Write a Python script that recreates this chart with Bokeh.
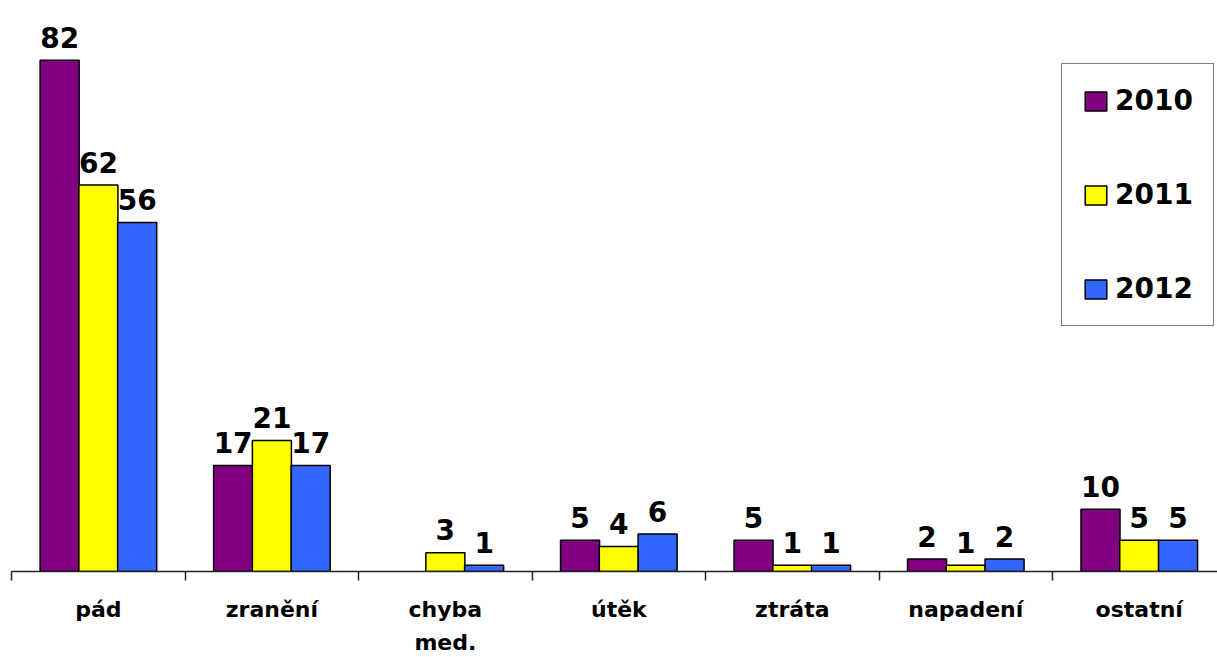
from bokeh.plotting import figure
from bokeh.models import Range1d, FixedTicker, ColumnDataSource, Legend, LegendItem
from bokeh.core.properties import value
from bokeh.embed import file_html
from bokeh.resources import INLINE

categories = ["pád", "zranění", "chyba\nmed.", "útěk", "ztráta", "napadení", "ostatní"]
years = ["2010", "2011", "2012"]
v2010 = [82, 17, 0, 5, 5, 2, 10]
v2011 = [62, 21, 3, 4, 1, 1, 5]
v2012 = [56, 17, 1, 6, 1, 2, 5]
series = [v2010, v2011, v2012]
colors = ["#800080", "#FFFF00", "#3366FF"]

FONT = "DejaVu Sans"

p = figure(width=1217, height=657, output_backend="svg", toolbar_location=None,
           x_range=Range1d(-0.001, 6.951), y_range=Range1d(0, 91.6),
           min_border_left=11, min_border_right=0, min_border_top=0, min_border_bottom=86)
p.outline_line_color = None
p.grid.visible = False
p.yaxis.visible = False
p.background_fill_color = "white"

offsets = [-0.2235, 0.0, 0.2235]
bar_w = 0.225
items = []
for k, (vals, col, yr) in enumerate(zip(series, colors, years)):
    xs = [i + 0.5 + offsets[k] for i, v in enumerate(vals) if v > 0]
    ys = [v for v in vals if v > 0]
    src = ColumnDataSource(dict(x=xs, top=ys, lab=[str(v) for v in ys]))
    r = p.vbar(x="x", top="top", bottom=0, width=bar_w, source=src,
               fill_color=col, line_color="black", line_width=1.5)
    p.text(x="x", y="top", text="lab", source=src, text_align="center",
           text_baseline="alphabetic", y_offset=-23,
           text_font=value(FONT), text_font_style="bold", text_font_size="28px",
           text_color="black")
    items.append(LegendItem(label=yr, renderers=[r]))

ax = p.xaxis[0]
ax.ticker = FixedTicker(ticks=[i + 0.5 for i in range(7)],
                        minor_ticks=[float(i) for i in range(8)])
ax.major_label_overrides = {i + 0.5: c for i, c in enumerate(categories)}
ax.major_tick_out = 9
ax.major_tick_in = 0
ax.major_tick_line_color = None
ax.minor_tick_out = 9
ax.minor_tick_in = 0
ax.minor_tick_line_color = "#222222"
ax.minor_tick_line_width = 1.5
ax.axis_line_color = "#222222"
ax.axis_line_width = 1.5
ax.major_label_standoff = 16
ax.major_label_text_font = FONT
ax.major_label_text_font_style = "bold"
ax.major_label_text_font_size = "22px"
ax.major_label_text_color = "black"
ax.major_label_text_line_height = 1.33

legend = Legend(items=items, location=(1050, 245), orientation="vertical",
                glyph_width=27, glyph_height=24, label_height=24,
                spacing=61, padding=20, margin=0, label_standoff=6,
                label_text_font=FONT, label_text_font_style="bold",
                label_text_font_size="28px", label_text_color="black",
                border_line_color="black", border_line_width=1.5,
                background_fill_color="white", background_fill_alpha=1.0)
p.add_layout(legend)

open("out.html", "w").write(file_html(p, INLINE))
